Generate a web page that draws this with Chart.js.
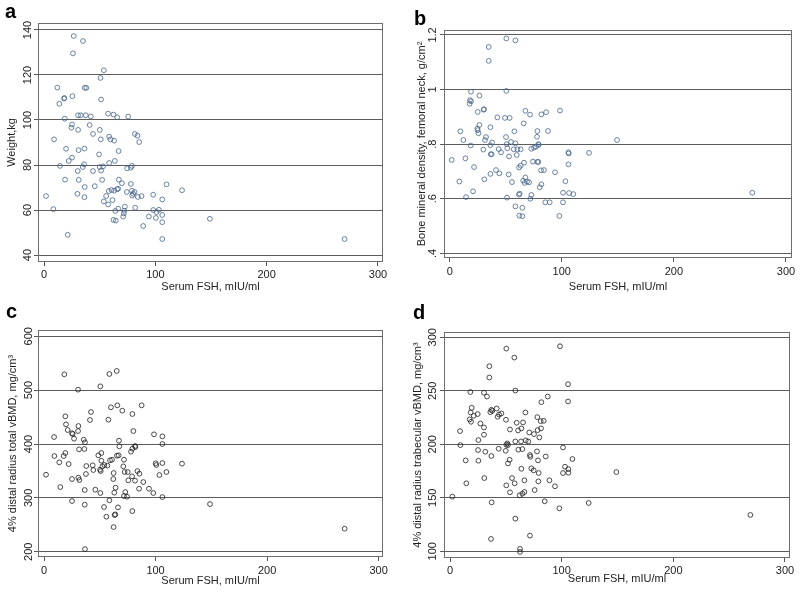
<!DOCTYPE html>
<html><head><meta charset="utf-8">
<script src="https://cdn.jsdelivr.net/npm/chart.js@4/dist/chart.umd.min.js"></script>
<style>
html,body{margin:0;padding:0;background:#fff;}
body{width:800px;height:593px;position:relative;overflow:hidden;font-family:"Liberation Sans",Arial,sans-serif;}
.pn{position:absolute;}
.lt{position:absolute;font:bold 20px "Liberation Sans",Arial,sans-serif;line-height:20px;color:#000;}
</style></head>
<body>
<div class="pn" style="left:0;top:0;width:400px;height:296px"><canvas id="ca" width="400" height="296"></canvas></div>
<div class="pn" style="left:400px;top:0;width:400px;height:296px"><canvas id="cb" width="400" height="296"></canvas></div>
<div class="pn" style="left:0;top:296px;width:400px;height:297px"><canvas id="cc" width="400" height="297"></canvas></div>
<div class="pn" style="left:400px;top:296px;width:400px;height:297px"><canvas id="cd" width="400" height="297"></canvas></div>
<div class="lt" style="left:5px;top:1px">a</div>
<div class="lt" style="left:414px;top:8px">b</div>
<div class="lt" style="left:6px;top:301px">c</div>
<div class="lt" style="left:413px;top:302px">d</div>
<script>
// ---- data ----
const xTicks = [0, 100, 200, 300];
const xTitle = "Serum FSH, mIU/ml";

// a: weight
const fshA = [26.7,35,26,53.7,50.7,12,36.6,38,25.5,18,18.3,51.3,13.8,18.6,30.6,33,37.5,42,57.6,62.4,65.7,75.6,25.2,41,24.6,30.6,50.1,44,81.6,84,9,51,58.5,59.7,63,85.5,19.8,31,36.3,67,49.5,25.2,22.2,58.5,63.6,14.4,36,34.8,50,53,74.7,78,79,30.3,44,51.3,18.9,31.2,52.2,67.2,70,78,110,36.6,45.6,124,1.8,30,36.3,58.2,60.6,63,65.7,66.6,55.8,74.4,79,81.3,79.2,80.1,84.3,87.6,98.1,106.2,53.7,61.5,57.6,8.4,64,66.6,72,72.6,71.7,81.9,98.1,101.1,103.2,71.1,94.2,106.2,100.5,106.2,62.4,64.5,149,89.1,21.3,106.2,270];
const weightA = [137.3,135.1,129.6,122.1,118.7,114.4,114.3,114.3,110.6,109.5,109.8,109.1,107.2,100.6,102.1,102.1,102.1,101.6,102.8,102.4,101.2,101.5,98,97.8,96.6,95.6,95.6,93.8,93.8,93,91.4,91.4,92.6,91.4,90.8,90.2,87.2,86.6,87.3,86.2,84.7,83.3,81.8,80.9,81.8,79.6,80.3,79.1,79.1,79.4,78.5,78.8,79.6,77.3,77.3,77.5,73.5,73.4,73.4,73.5,71.9,71.6,71.4,70.2,70.6,68.8,66.2,67.2,65.7,68.4,68.9,68.6,69.2,69.5,66.2,68,68.6,68,66.4,67.2,65.8,66.2,66.8,64.7,63.8,64.4,62.5,60.4,59.6,60.6,59.7,61.5,58.5,61,60,59.1,60.1,57.1,57.1,57.8,56.5,54.6,55.6,55.3,56.1,52.9,49,47.1,47.1];
const yTicksA = [40, 60, 80, 100, 120, 140];

// b: femoral neck BMD
const fshB = [50.5,58.6,34.8,34.8,50.5,19,26.5,18.1,19,17.8,25,30.3,30.6,42.5,49.3,53.5,67.5,71.7,66,81.8,86,98.4,9.5,26.5,24.7,25,25.6,36.3,57.7,78.2,87.7,12.2,32.4,31.5,50.2,37.8,36.3,18.7,30,43.7,45.8,50.8,51.4,54.7,58.6,57.1,60.4,63.3,36.6,37.5,52.9,59.8,77.9,72.8,75.2,77,79.1,79.4,105.9,106.2,124.3,149.3,1.8,14,21.7,66.3,63.3,61.9,74.3,78.2,79.1,105.9,41.3,44.3,36.3,52.6,81.5,84.1,94,30.9,8.6,55.6,67.5,65.5,66.9,69,70.8,103.2,81.8,80.3,20.8,14.6,51.1,62.4,61.8,72.8,71.9,101.1,106.5,110.3,270,85.3,89.2,101.1,58.6,64.8,62.1,64.8,97.8];
const bmdB = [1.187,1.180,1.156,1.105,0.995,0.992,0.978,0.961,0.957,0.948,0.918,0.926,0.928,0.898,0.896,0.896,0.922,0.908,0.876,0.909,0.917,0.923,0.847,0.870,0.857,0.851,0.840,0.862,0.847,0.848,0.848,0.815,0.826,0.815,0.826,0.806,0.796,0.795,0.780,0.782,0.770,0.800,0.785,0.808,0.803,0.781,0.781,0.781,0.763,0.763,0.755,0.760,0.827,0.783,0.787,0.791,0.800,0.797,0.770,0.766,0.768,0.815,0.742,0.748,0.716,0.732,0.721,0.714,0.736,0.735,0.735,0.726,0.705,0.693,0.691,0.689,0.704,0.705,0.697,0.671,0.663,0.661,0.678,0.666,0.658,0.663,0.660,0.664,0.653,0.642,0.627,0.606,0.604,0.619,0.615,0.614,0.600,0.622,0.621,0.617,0.622,0.587,0.587,0.587,0.572,0.567,0.538,0.536,0.537];
const yTicksB = [0.4, 0.6, 0.8, 1.0, 1.2];

// c: total vBMD
const fshC = [18.2,58.6,65.2,30.5,50.5,19.1,42.1,60,65.7,70.2,87.5,79.2,19.7,41.2,57.7,30.8,21.2,30.5,25.1,25.7,26.9,80.1,98.6,106.1,9,36.7,35.6,31.4,36.2,67.2,67.5,81.6,81.9,79.2,78,106.1,19.1,17.6,9.3,51.4,48.7,65.4,66.9,13.7,22.1,37.9,43.6,44.2,51.4,52.3,54.1,50.2,50.8,59.2,56.8,61,71.7,71.1,72.3,75,75.6,78.9,81.6,83.7,85.5,100.1,100.7,106.1,109.7,103.4,123.7,1.8,37.6,62.4,62.1,25.1,30.8,31.7,64.2,89,85.2,94.1,98,106.1,14.6,36.5,46,50.5,63,72.9,71.7,74.4,25.1,58.6,36.5,148.8,53.8,66.3,55.9,63.3,63.9,79.2,62.4,269.5,36.7];
const totC = [529.4,530,535.6,500.9,507.1,451.4,459.4,468.1,471.8,461.9,471.8,455.7,436.5,444.6,445.2,433.4,426,424.1,420,418.6,409.9,424.1,418,414.2,413,403.1,408,390.1,390.7,406.2,395.7,396.3,394.4,391.3,385.8,400,383.3,377.7,377.7,383.3,379,378.3,379,366,362.8,359.1,360.4,351.7,369,358.5,361,352.3,349.8,369.7,359.8,370.9,370.9,358.5,348,348,332.5,340,331.9,349.8,344.9,364.1,361,364.7,348,342.4,363.5,343,344.3,346.1,335,335,337.5,333.1,318.9,329.4,317,317,309,301.5,320.1,314.6,315.2,309,309.6,310.8,303.4,302.2,294.1,295.4,287.3,288.5,283,282.4,265,268.1,269.3,275.5,245.8,242.7,204.9];
const yTicksC = [200, 300, 400, 500, 600];

// d: trabecular vBMD
const fshD = [50.4,98.5,57.6,35.2,35.2,18.2,30.4,33.1,58.5,87.5,105.7,105.7,81.8,19.4,18.5,18.8,17.6,21.2,24.8,27.2,30.4,30.4,9,25.4,25.1,9.3,31.6,37,43.6,14,25.4,37,36.1,37.9,41.8,42.7,43.9,46,50.1,53.7,59.7,60.9,63.9,65.4,67.5,71,75.2,78.2,81.2,83.9,81.5,78.5,80,58.5,63.6,67.8,70.1,51.3,51.9,50.4,49.9,61.2,64.8,77.9,101.2,71.6,71.9,85.7,53.4,78.8,109.6,51.9,72.8,63.9,74.9,103,106,106,101.2,149,79.4,55.5,30.7,66.6,89,79.1,57.9,14.6,50.4,94,75.8,66.6,64.8,53.7,62.4,2.1,84.8,37.3,124.2,97.9,269,58.5,36.7,71.6,62.7,62.7];
const trabD = [289.4,291.6,281,272.9,262.4,248.8,248.1,244.6,250.2,244.6,256.1,240,239.3,234.1,229.7,221,223.2,226.6,228.2,219.4,215.7,208.9,212.3,203.9,194.6,199.2,193,189,195.8,184.9,184.6,232.2,230,231.3,233.4,225.7,227.8,228.8,222.9,213.8,220.1,212.9,214.8,220.4,229.7,211,209.5,225.3,221.6,221.9,214.8,213.2,206.4,202.6,202.6,203.6,202.6,200.8,199.2,199.5,193.9,194.9,195.5,193.3,197,189.9,188.3,188.6,185.5,184.9,186.2,182.1,177.5,177.1,175.6,179,176.8,173.4,173.1,174,173.1,168.4,168.4,166.3,166.3,165.3,163.5,163.5,161.6,160.7,157.2,155.4,153.8,155.1,152.3,151,146.7,145.7,145.1,140.1,133.9,130.5,111.5,114.6,102.2,99.4];
const yTicksD = [100, 150, 200, 250, 300];

// ---- helpers ----
const FONT = "'Liberation Sans', Arial, Helvetica, sans-serif";
const pts = (xs, ys) => xs.map((v, i) => ({x: v, y: ys[i]}));

const framePlugin = {
  id: 'frame',
  beforeDatasetsDraw(chart) {
    const a = chart.chartArea, c = chart.ctx;
    c.save();
    c.strokeStyle = '#6e6e6e';
    c.lineWidth = 1;
    c.strokeRect(Math.round(a.left) + 0.5, Math.round(a.top) + 0.5, Math.round(a.right - a.left) - 1, Math.round(a.bottom - a.top) - 1);
    c.restore();
  }
};

function panel(id, p) {
  const ctx = document.getElementById(id);
  return new Chart(ctx, {
    type: 'scatter',
    data: {datasets: [{
      data: pts(p.xs, p.ys),
      pointStyle: 'circle',
      pointRadius: 2.4,
      pointHoverRadius: 2.4,
      borderWidth: 0.8,
      borderColor: p.color,
      backgroundColor: 'rgba(0,0,0,0)'
    }]},
    options: {
      responsive: false,
      animation: false,
      events: [],
      layout: {padding: p.pad},
      plugins: {legend: {display: false}, tooltip: {enabled: false}},
      scales: {
        x: {
          type: 'linear', position: 'bottom',
          min: p.xmin, max: p.xmax,
          afterBuildTicks: s => { s.ticks = xTicks.map(v => ({value: v})); },
          afterFit: s => { s.height = p.xH; },
          grid: {drawOnChartArea: false, drawTicks: true, tickLength: 4, tickColor: '#555', tickWidth: 1},
          border: {display: false},
          ticks: {font: {family: FONT, size: 11}, color: '#222', padding: p.xTickPad, maxRotation: 0},
          title: {display: true, text: xTitle, font: {family: FONT, size: 11}, color: '#222', padding: {top: 0, bottom: p.xTitlePad}}
        },
        y: {
          type: 'linear', position: 'left',
          min: p.ymin, max: p.ymax,
          afterBuildTicks: s => { s.ticks = p.yTicks.map(v => ({value: v})); },
          afterFit: s => { s.width = p.yW; },
          grid: {drawOnChartArea: true, color: '#5c5c5c', lineWidth: 1, drawTicks: true, tickLength: 4, tickColor: '#555'},
          border: {display: false},
          ticks: {font: {family: FONT, size: 11}, color: '#222', minRotation: 90, maxRotation: 90, crossAlign: 'center', padding: p.yTickPad, callback: p.fmt},
          title: {display: true, text: p.yTitle, font: {family: FONT, size: 11}, color: '#222', padding: {top: p.yTitlePad, bottom: 0}}
        }
      }
    },
    plugins: [framePlugin]
  });
}

const statafmt = v => {
  let s = String(Math.round(v * 10) / 10);
  if (s.startsWith('0.')) s = s.slice(1);
  return s;
};

panel('ca', {xs: fshA, ys: weightA, color: '#45648a', yTicks: yTicksA, yTitle: 'Weight,kg',
  xmin: -5.4, xmax: 304.5, ymin: 36.9, ymax: 143.1,
  pad: {left: 0, right: 17, top: 23, bottom: 1}, yW: 38, xH: 33,
  xTickPad: 2, xTitlePad: 1, yTickPad: -3.5, yTitlePad: 5.4, fmt: v => String(v)});

panel('cb', {xs: fshB, ys: bmdB, color: '#45648a', yTicks: yTicksB, yTitle: 'Bone mineral density, femoral neck, g/cm²',
  xmin: -5.1, xmax: 305.4, ymin: 0.383, ymax: 1.218,
  pad: {left: 0, right: 8, top: 30, bottom: 1}, yW: 44, xH: 37,
  xTickPad: 3, xTitlePad: 1, yTickPad: -1, yTitlePad: 15, fmt: statafmt});

panel('cc', {xs: fshC, ys: totC, color: '#1e1e1e', yTicks: yTicksC, yTitle: '4% distal radius total vBMD, mg/cm³',
  xmin: -5.4, xmax: 303.9, ymin: 190.2, ymax: 611.7,
  pad: {left: 0, right: 17, top: 34, bottom: 5}, yW: 38, xH: 31,
  xTickPad: 3, xTitlePad: 0, yTickPad: -4.2, yTitlePad: 6.4, fmt: v => String(v)});

panel('cd', {xs: fshD, ys: trabD, color: '#1e1e1e', yTicks: yTicksD, yTitle: '4% distal radius trabecular vBMD, mg/cm³',
  xmin: -5.4, xmax: 304.5, ymin: 93.7, ymax: 304.9,
  pad: {left: 0, right: 10, top: 36, bottom: 7}, yW: 44, xH: 28,
  xTickPad: 2, xTitlePad: 0, yTickPad: -2.2, yTitlePad: 11.4, fmt: v => String(v)});
</script>
</body></html>
